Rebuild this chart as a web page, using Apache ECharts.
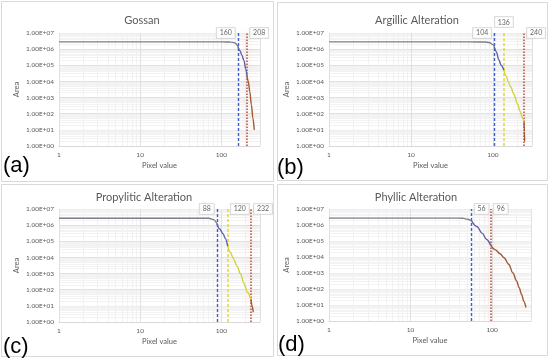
<!DOCTYPE html>
<html><head><meta charset="utf-8">
<script src="https://cdn.jsdelivr.net/npm/echarts@6/dist/echarts.min.js"></script>
<style>html,body{margin:0;padding:0;background:#fff}#c{width:550px;height:363px}</style>
</head><body><div id="c"></div>
<script>
// ---------------- DATA ----------------
const titles = ['Gossan', 'Argillic Alteration', 'Propylitic Alteration', 'Phyllic Alteration'];
const panelTags = ['(a)', '(b)', '(c)', '(d)'];
const xTickValues = [1, 10, 100];
const xName = 'Pixel value';
const yName = 'Area';

const gossanX    = [1, 2, 5, 10, 20, 50, 100, 130, 145, 160, 170, 180, 190, 200, 208, 215, 225, 235, 245, 255];
const gossanArea = [2.8e6, 2.8e6, 2.8e6, 2.8e6, 2.8e6, 2.8e6, 2.8e6, 2.78e6, 2.5e6, 1.5e6, 8e5, 4e5, 2e5, 6e4, 2e4, 1e4, 2.2e3, 350, 55, 10];
const gossanThresholds = [160, 208];
const gossanKinds = ['blue', 'red'];

const argillicX    = [1, 2, 5, 10, 20, 50, 80, 90, 100, 104, 110, 118, 126, 136, 145, 155, 165, 180, 200, 215, 230, 240, 242, 244];
const argillicArea = [2.8e6, 2.8e6, 2.8e6, 2.8e6, 2.8e6, 2.8e6, 2.78e6, 2.6e6, 1.9e6, 1.4e6, 7e5, 2.2e5, 1e5, 5e4, 2.2e4, 9e3, 4.5e3, 1.6e3, 400, 140, 55, 32, 8, 2];
const argillicThresholds = [104, 136, 240];
const argillicKinds = ['blue', 'yellow', 'red'];

const propyliticX    = [1, 2, 5, 10, 20, 50, 70, 80, 88, 95, 105, 112, 120, 130, 140, 156, 172, 190, 210, 232, 240, 248];
const propyliticArea = [2.7e6, 2.7e6, 2.7e6, 2.7e6, 2.7e6, 2.7e6, 2.65e6, 2.2e6, 1.3e6, 6e5, 3e5, 1.5e5, 5e4, 2e4, 9e3, 3e3, 1e3, 250, 70, 25, 10, 4];
const propyliticThresholds = [88, 120, 232];
const propyliticKinds = ['blue', 'yellow', 'red'];

const phyllicX    = [1, 2, 5, 10, 20, 40, 45, 50, 56, 65, 76, 85, 96, 110, 125, 140, 160, 180, 200, 215, 230, 245, 260];
const phyllicArea = [2.7e6, 2.7e6, 2.7e6, 2.7e6, 2.7e6, 2.68e6, 2.6e6, 2.3e6, 1.8e6, 8e5, 3e5, 1.3e5, 5.5e4, 2.8e4, 1.6e4, 9e3, 3.5e3, 1e3, 320, 120, 45, 17, 7];
const phyllicThresholds = [56, 96];
const phyllicKinds = ['blue', 'red'];

// ---------------- STYLE / LAYOUT ----------------
const FONT = 'Lato';
const kindColor = {grey: '#7f7f8c', blue: '#5a5fae', yellow: '#d2d236', red: '#9e5a30'};
const kindLine = {
  blue:   {color: '#3f5fc8', type: [3, 2], width: 1.4},
  yellow: {color: '#e0dc3a', type: [3, 2], width: 1.6},
  red:    {color: '#b4584a', type: [1.5, 1.5], width: 1.6, shadowColor: 'rgba(255,110,110,0.45)', shadowBlur: 8}
};
const panels = [
  {x: gossanX, y: gossanArea, t: gossanThresholds, k: gossanKinds, pos: ['left', 'right'],
   grid: {left: 59, top: 33, width: 201, height: 113}, title: [137, 10], tag: [3, 155], box: [1, 1, 272, 180]},
  {x: argillicX, y: argillicArea, t: argillicThresholds, k: argillicKinds, pos: ['left', 'top', 'right'],
   grid: {left: 329, top: 33, width: 203, height: 113}, title: [412, 10], tag: [277, 157], box: [277, 2, 270, 178]},
  {x: propyliticX, y: propyliticArea, t: propyliticThresholds, k: propyliticKinds, pos: ['left', 'right', 'right'],
   grid: {left: 59, top: 209, width: 201, height: 113}, title: [139, 187], tag: [3, 336], box: [1, 184, 272, 172]},
  {x: phyllicX, y: phyllicArea, t: phyllicThresholds, k: phyllicKinds, pos: ['right', 'right'],
   grid: {left: 329, top: 209, width: 202, height: 112}, title: [411, 187], tag: [278, 334], box: [277, 184, 270, 171]}
];

function yFmt(v) {
  const e = Math.round(Math.log10(v));
  return '1.00E+' + (e < 10 ? '0' : '') + e;
}

const grids = [], xAxes = [], yAxes = [], series = [], titleComps = [], graphics = [];

panels.forEach((p, i) => {
  grids.push(Object.assign({containLabel: false}, p.grid));
  titleComps.push({text: titles[i], left: p.title[0], top: p.title[1], textAlign: 'center',
    textStyle: {fontFamily: FONT, fontSize: 11, fontWeight: 'normal', color: '#595959'}});
  xAxes.push({type: 'log', logBase: 10, gridIndex: i, min: 1, max: 300, splitNumber: 3,
    name: xName, nameLocation: 'middle', nameGap: 16,
    nameTextStyle: {fontFamily: FONT, fontSize: 7.5, color: '#595959'},
    axisLine: {show: true, lineStyle: {color: '#d9d9d9'}}, axisTick: {show: false},
    axisLabel: {fontFamily: FONT, fontSize: 6.5, color: '#595959', margin: 5,
      formatter: v => (xTickValues.some(t => Math.abs(t - v) < 1e-6) ? String(v) : '')},
    splitLine: {show: true, lineStyle: {color: '#d9d9d9', width: 0.8}},
    minorTick: {show: false, splitNumber: 9},
    minorSplitLine: {show: true, lineStyle: {color: '#efefef', width: 0.8}}});
  yAxes.push({type: 'log', logBase: 10, gridIndex: i, min: 1, max: 1e7, splitNumber: 7,
    name: yName, nameLocation: 'middle', nameGap: 38,
    nameTextStyle: {fontFamily: FONT, fontSize: 7.5, color: '#595959'},
    axisLine: {show: false}, axisTick: {show: false},
    axisLabel: {fontFamily: FONT, fontSize: 6.5, color: '#595959', margin: 5, formatter: yFmt},
    splitLine: {show: true, lineStyle: {color: '#d9d9d9', width: 0.8}},
    minorTick: {show: false, splitNumber: 9},
    minorSplitLine: {show: true, lineStyle: {color: '#f0f0f0', width: 0.8}}});

  // split curve into coloured segments at thresholds
  const bounds = [-Infinity].concat(p.t, [Infinity]);
  const kinds = ['grey'].concat(p.k);
  for (let s = 0; s < kinds.length; s++) {
    const pts = [];
    p.x.forEach((xv, j) => { if (xv >= bounds[s] && xv <= bounds[s + 1]) pts.push([xv, p.y[j]]); });
    if (pts.length < 2) continue;
    series.push({type: 'line', xAxisIndex: i, yAxisIndex: i, data: pts, smooth: 0.35,
      smoothMonotone: 'x', symbol: 'none', z: 5,
      lineStyle: {color: kindColor[kinds[s]], width: 1.4}, silent: true});
  }
  // threshold vertical lines
  series.push({type: 'line', xAxisIndex: i, yAxisIndex: i, data: [], silent: true, z: 4,
    markLine: {silent: true, symbol: 'none', animation: false, label: {show: false},
      data: p.t.map((t, j) => ({xAxis: t, lineStyle: kindLine[p.k[j]]}))}});
  // threshold value boxes
  series.push({type: 'scatter', xAxisIndex: i, yAxisIndex: i, symbolSize: 0, z: 10, silent: true,
    data: p.t.map((t, j) => ({value: [t, 1e7],
      label: {position: p.pos[j], distance: p.pos[j] === 'top' ? 6 : 3}})),
    label: {show: true, formatter: d => String(d.value[0]),
      fontFamily: FONT, fontSize: 7, color: '#404040', backgroundColor: '#fff',
      borderColor: '#c8c8c8', borderWidth: 0.8, padding: [2, 3, 1, 3]}});

  graphics.push({type: 'rect', shape: {x: p.box[0] + 0.5, y: p.box[1] + 0.5, width: p.box[2], height: p.box[3]},
    style: {fill: 'none', stroke: '#d9d9d9', lineWidth: 1}, silent: true, z: -1});
  graphics.push({type: 'text', left: p.tag[0], top: p.tag[1],
    style: {text: panelTags[i], font: '22px "Liberation Sans", Arial, sans-serif', fill: '#000'}, silent: true});
});

const chart = echarts.init(document.getElementById('c'), null, {renderer: 'canvas'});
chart.setOption({
  animation: false, backgroundColor: '#fff',
  title: titleComps, grid: grids, xAxis: xAxes, yAxis: yAxes, series: series, graphic: graphics
});
</script></body></html>
